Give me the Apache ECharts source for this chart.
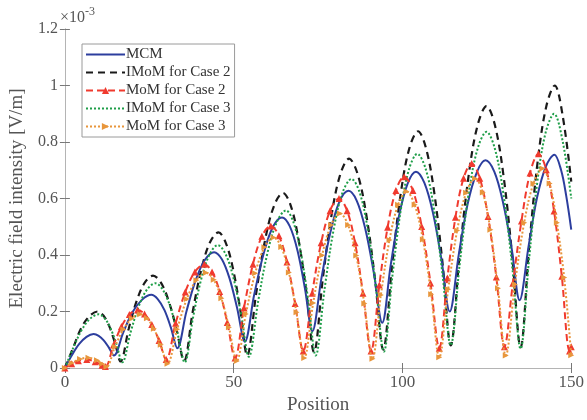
<!DOCTYPE html>
<html>
<head>
<meta charset="utf-8">
<script src="https://cdn.jsdelivr.net/npm/echarts@6/dist/echarts.min.js"></script>
<style>
html,body{margin:0;padding:0;background:#fff;}
#chart{width:587px;height:420px;}
</style>
</head>
<body>
<div id="chart"></div>
<script>
// Values in units of 1e-3 V/m
const seriesNames = ['MCM', 'IMoM for Case 2', 'MoM for Case 2', 'IMoM for Case 3', 'MoM for Case 3'];
const xTicks = [0, 50, 100, 150];
const yTicks = [0, 0.2, 0.4, 0.6, 0.8, 1, 1.2];

const mcm = [[0,0],[2.1,0.046],[4.25,0.085],[6.4,0.11],[8.5,0.12],[10,0.114],[11.5,0.098],[13,0.073],[14.5,0.044],
[17.3,0.126],[20,0.197],[22.9,0.242],[25.6,0.259],[27.5,0.244],[29.5,0.205],[31.4,0.143],[33.3,0.07],
[36,0.2],[38.75,0.311],[41.5,0.383],[44.2,0.41],[46.5,0.385],[48.75,0.318],[51,0.213],[53.3,0.093],
[56.1,0.261],[58.9,0.406],[61.6,0.499],[64.3,0.533],[66.6,0.502],[68.9,0.416],[71.1,0.282],[73.3,0.13],
[76,0.318],[78.7,0.483],[81.3,0.588],[84,0.627],[86.5,0.591],[89,0.492],[91.5,0.338],[94,0.16],
[96.5,0.363],[99,0.54],[101.5,0.652],[104,0.695],[106.5,0.655],[109,0.551],[111.5,0.388],[114,0.2],
[116.7,0.403],[119.3,0.58],[122,0.692],[124.6,0.735],[127.2,0.695],[129.7,0.591],[132.3,0.427],[134.7,0.24],
[137.4,0.434],[139.9,0.605],[142.5,0.714],[145,0.755],[147,0.7],[148.5,0.61],[150,0.49]];

const imomCase2 = [[0,0],[2.4,0.07],[4.85,0.142],[7.3,0.184],[9.7,0.2],[11.4,0.186],[13.1,0.149],[14.8,0.09],[16.5,0.023],
[18.9,0.139],[21.3,0.239],[23.7,0.303],[26.1,0.327],[28.4,0.303],[30.7,0.239],[33,0.14],[35.3,0.025],
[37.85,0.198],[40.4,0.348],[42.95,0.444],[45.5,0.48],[47.6,0.445],[49.75,0.354],[51.9,0.21],[54,0.044],
[56.65,0.263],[59.3,0.453],[61.95,0.574],[64.6,0.62],[66.9,0.575],[69.2,0.456],[71.5,0.27],[73.8,0.056],
[76.4,0.316],[79,0.542],[81.6,0.686],[84.2,0.741],[86.7,0.687],[89.25,0.545],[91.8,0.322],[94.3,0.065],
[96.9,0.359],[99.45,0.614],[102,0.776],[104.6,0.838],[107,0.777],[109.45,0.618],[111.9,0.368],[114.3,0.08],
[116.95,0.402],[119.6,0.681],[122.25,0.859],[124.9,0.927],[127.4,0.859],[129.95,0.679],[132.5,0.398],[135,0.073],
[137.5,0.425],[140.05,0.731],[142.6,0.926],[145.1,1.0],[147.5,0.89],[150,0.66]];

const momCase2 = [[0,0],[2,0.015],[4,0.026],[6.5,0.03],[9,0.022],[11,0.01],[12,0.005],
[14.4,0.081],[16.75,0.147],[19.1,0.189],[21.5,0.205],[23.6,0.191],[25.75,0.154],[27.9,0.097],[30,0.03],
[32.8,0.158],[35.65,0.269],[38.5,0.34],[41.3,0.367],[43.6,0.34],[45.85,0.271],[48.1,0.161],[50.4,0.035],
[53.05,0.213],[55.7,0.367],[58.35,0.466],[61,0.503],[63.4,0.468],[65.8,0.375],[68.2,0.228],[70.6,0.06],
[73.25,0.265],[75.9,0.443],[78.55,0.557],[81.2,0.6],[83.6,0.557],[85.95,0.443],[88.3,0.265],[90.7,0.06],
[93.15,0.294],[95.6,0.498],[98.05,0.628],[100.5,0.677],[103.1,0.628],[105.7,0.501],[108.3,0.301],[110.9,0.07],
[113.3,0.319],[115.7,0.534],[118.1,0.672],[120.5,0.724],[122.9,0.672],[125.35,0.536],[127.8,0.322],[130.2,0.075],
[132.7,0.3],[135.25,0.52],[137.8,0.69],[140.3,0.758],[142.6,0.702],[144.9,0.556],[147.2,0.325],[149.5,0.06],[150,0.075]];

const imomCase3 = [[0,0],[2.5,0.072],[5,0.135],[7.5,0.175],[10,0.19],[11.75,0.176],[13.5,0.141],[15.25,0.085],[17,0.02],
[19.45,0.126],[21.9,0.219],[24.35,0.278],[26.8,0.3],[28.95,0.278],[31.15,0.219],[33.3,0.126],[35.5,0.02],
[37.95,0.178],[40.4,0.315],[42.85,0.402],[45.3,0.435],[47.6,0.403],[49.9,0.32],[52.2,0.19],[54.5,0.04],
[57.25,0.236],[60,0.407],[62.75,0.516],[65.5,0.558],[67.7,0.516],[69.9,0.408],[72.1,0.239],[74.3,0.044],
[76.95,0.282],[79.6,0.489],[82.25,0.621],[84.9,0.669],[87.3,0.622],[89.7,0.493],[92.1,0.291],[94.5,0.058],
[97,0.324],[99.45,0.555],[101.9,0.702],[104.4,0.758],[106.9,0.704],[109.35,0.561],[111.8,0.338],[114.3,0.08],
[116.95,0.367],[119.6,0.617],[122.25,0.776],[124.9,0.836],[127.4,0.775],[129.95,0.613],[132.5,0.36],[135,0.068],
[137.5,0.384],[139.95,0.659],[142.4,0.833],[144.9,0.9],[147.5,0.8],[150,0.6]];

const momCase3 = [[0,0],[2,0.018],[4.5,0.032],[7,0.036],[9.5,0.027],[11,0.015],[12.3,0.004],
[14.8,0.075],[17.3,0.136],[19.8,0.175],[22.3,0.19],[24.3,0.176],[26.35,0.139],[28.4,0.082],[30.4,0.015],
[33.25,0.137],[36.1,0.244],[38.95,0.311],[41.8,0.337],[44.1,0.312],[46.35,0.247],[48.6,0.144],[50.9,0.025],
[53.6,0.191],[56.35,0.335],[59.1,0.427],[61.8,0.462],[64.1,0.428],[66.35,0.338],[68.6,0.197],[70.9,0.035],
[73.55,0.23],[76.2,0.399],[78.85,0.506],[81.5,0.547],[83.9,0.506],[86.3,0.398],[88.7,0.228],[91.1,0.033],
[93.6,0.258],[96.15,0.453],[98.7,0.578],[101.2,0.625],[103.6,0.578],[106.05,0.455],[108.5,0.261],[110.9,0.038],
[113.55,0.279],[116.2,0.487],[118.85,0.62],[121.5,0.671],[123.8,0.621],[126.05,0.489],[128.3,0.282],[130.6,0.044],
[133.3,0.296],[136.05,0.514],[138.8,0.653],[141.5,0.706],[143.6,0.653],[145.75,0.514],[147.9,0.32],[150,0.045]];

const FONT = '"Liberation Serif", "DejaVu Serif", serif';
const chart = echarts.init(document.getElementById('chart'), null, {renderer: 'canvas'});

const axisLineStyle = {color: '#b4b4b4', width: 1};
const tickStyle = {show: true, inside: true, length: 5, lineStyle: {color: '#777'}};

const option = {
  backgroundColor: '#ffffff',
  animation: false,
  grid: {left: 58, right: 10, top: 29, bottom: 47, containLabel: false},
  graphic: [{
    type: 'text', left: 60, top: 6,
    style: {
      text: '{a|×10}{b|-3}',
      rich: {
        a: {fontFamily: FONT, fontSize: 16, fill: '#555', verticalAlign: 'bottom', lineHeight: 20},
        b: {fontFamily: FONT, fontSize: 12, fill: '#555', verticalAlign: 'top', lineHeight: 20, padding: [0,0,8,0]}
      }
    }
  }],
  legend: {
    orient: 'vertical', left: 82, top: 44,
    backgroundColor: '#fff',
    borderColor: '#9a9a9a', borderWidth: 1,
    padding: [3, 4, 3, 3],
    itemWidth: 39, itemHeight: 9, itemGap: 3,
    textStyle: {fontFamily: FONT, fontSize: 15, lineHeight: 15, color: '#333', padding: [0,0,0,-4]},
    data: [
      {name: seriesNames[0], itemStyle: {opacity: 0}},
      {name: seriesNames[1], itemStyle: {opacity: 0}},
      {name: seriesNames[2]},
      {name: seriesNames[3], itemStyle: {opacity: 0}},
      {name: seriesNames[4]}
    ]
  },
  xAxis: [{
    type: 'value', min: 0, max: 150, interval: 50,
    name: 'Position', nameLocation: 'middle', nameGap: 28,
    nameTextStyle: {fontFamily: FONT, fontSize: 19, color: '#555'},
    axisLine: {show: true, lineStyle: axisLineStyle},
    axisTick: tickStyle,
    axisLabel: {fontFamily: FONT, fontSize: 17, color: '#555', margin: 6,
      formatter: v => xTicks.includes(v) ? String(v) : ''},
    splitLine: {show: false}
  }, {
    type: 'value', min: 0, max: 150, interval: 50, position: 'top',
    axisLine: {show: true, lineStyle: axisLineStyle},
    axisTick: tickStyle, axisLabel: {show: false}, splitLine: {show: false}
  }],
  yAxis: [{
    type: 'value', min: 0, max: 1.2, interval: 0.2,
    name: 'Electric field intensity [V/m]', nameLocation: 'middle', nameGap: 35, nameRotate: 90,
    nameTextStyle: {fontFamily: FONT, fontSize: 19, color: '#555'},
    axisLine: {show: true, lineStyle: axisLineStyle},
    axisTick: tickStyle,
    axisLabel: {fontFamily: FONT, fontSize: 16, color: '#555', margin: 7,
      formatter: v => { const t = yTicks.find(k => Math.abs(k - v) < 1e-9); return t === undefined ? '' : String(t); }},
    splitLine: {show: false}
  }, {
    type: 'value', min: 0, max: 1.2, interval: 0.2, position: 'right',
    axisLine: {show: true, lineStyle: axisLineStyle},
    axisTick: tickStyle, axisLabel: {show: false}, splitLine: {show: false}
  }],
  series: [
    {name: seriesNames[0], type: 'line', data: mcm, smooth: 0.35, symbol: 'none',
     color: '#2c3e9e', lineStyle: {color: '#2c3e9e', width: 2}, z: 3},
    {name: seriesNames[1], type: 'line', data: imomCase2, smooth: 0.35, symbol: 'none',
     color: '#1a1a1a', lineStyle: {color: '#1a1a1a', width: 2.2, type: [7, 5]}, z: 2},
    {name: seriesNames[2], type: 'line', data: momCase2, smooth: 0.35, symbol: 'triangle', symbolSize: 7,
     showSymbol: true, color: '#f03a2e', itemStyle: {color: '#f03a2e'},
     lineStyle: {color: '#f03a2e', width: 2, type: [7, 4]}, z: 5},
    {name: seriesNames[3], type: 'line', data: imomCase3, smooth: 0.35, symbol: 'none',
     color: '#1e9e48', lineStyle: {color: '#1e9e48', width: 2, type: [2, 2]}, z: 4},
    {name: seriesNames[4], type: 'line', data: momCase3, smooth: 0.35, symbol: 'triangle', symbolSize: 6, symbolRotate: -90,
     showSymbol: true, color: '#e8963c', itemStyle: {color: '#e8963c'},
     lineStyle: {color: '#e8963c', width: 2, type: [2, 2]}, z: 6}
  ]
};
chart.setOption(option);
</script>
</body>
</html>
